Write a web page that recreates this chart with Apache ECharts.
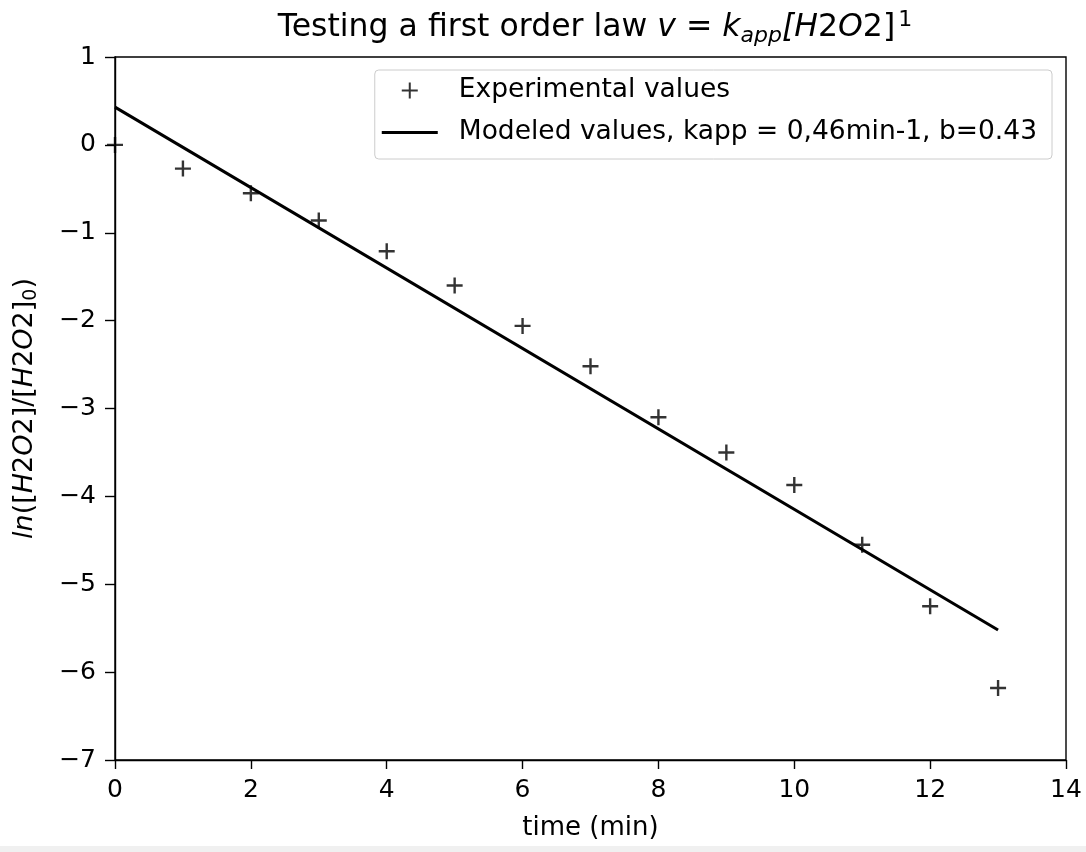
<!DOCTYPE html>
<html>
<head>
<meta charset="utf-8">
<script src="https://cdn.jsdelivr.net/npm/echarts@6/dist/echarts.min.js"></script>
<style>
  html, body { margin: 0; padding: 0; background: #f0f0f0; }
  #chart { width: 1086px; height: 846px; background: #ffffff; }
</style>
</head>
<body>
<div id="chart"></div>
<script>
// Data
const timeMin = [0, 1, 2, 3, 4, 5, 6, 7, 8, 9, 10, 11, 12, 13];
const lnRatio = [0, -0.27, -0.55, -0.86, -1.21, -1.6, -2.06, -2.52, -3.1, -3.5, -3.87, -4.55, -5.25, -6.18];
const modelTime = [0, 13];
const modelValues = [0.43, -5.52];
const xTicks = [0, 2, 4, 6, 8, 10, 12, 14];
const yTicks = [-7, -6, -5, -4, -3, -2, -1, 0, 1];

const expName = 'Experimental values';
const modelName = 'Modeled values, kapp = 0,46min-1, b=0.43';

const FONT = 'DejaVu Sans';
const plusPath = 'path://M5,0L5,10M0,5L10,5';
const linePath = 'path://M0,0L56,0L56,3L0,3Z';

const chart = echarts.init(document.getElementById('chart'), null, { renderer: 'canvas' });

const tn = { fontFamily: FONT, fontSize: 31.5, fontWeight: 'normal', color: '#000', lineHeight: 38, verticalAlign: 'middle' };
const option = {
  backgroundColor: '#ffffff',
  animation: false,
  textStyle: { fontFamily: FONT, color: '#000' },
  title: {
    text: '{n|Testing a first order law }{i|v}{n| = }{i|k}{sub|app}{i|[H}{n|2}{i|O}{n|2]}{sup|1}',
    left: 590,
    textAlign: 'center',
    top: 4,
    textStyle: {
      fontWeight: 'normal',
      rich: {
        n: tn,
        i: Object.assign({}, tn, { fontStyle: 'italic' }),
        sub: { fontFamily: FONT, fontSize: 22, fontWeight: 'normal', fontStyle: 'italic', color: '#000', lineHeight: 17, verticalAlign: 'bottom' },
        sup: { fontFamily: FONT, fontSize: 22, fontWeight: 'normal', color: '#000', lineHeight: 30, verticalAlign: 'top', padding: [0, 0, 0, 3] }
      }
    }
  },
  legend: {
    right: 34,
    top: 70,
    orient: 'vertical',
    align: 'left',
    itemWidth: 56,
    itemHeight: 16,
    itemGap: 15,
    padding: [7, 15, 13, 7],
    borderColor: '#cccccc',
    borderWidth: 1,
    borderRadius: 4,
    backgroundColor: 'rgba(255,255,255,0.8)',
    textStyle: { fontFamily: FONT, fontSize: 26.5, color: '#000', padding: [0, 0, 0, 16] },
    data: [
      { name: expName, icon: plusPath },
      { name: modelName, icon: linePath, itemStyle: { color: '#000', borderWidth: 0 } }
    ]
  },
  grid: {
    left: 115,
    right: 20,
    top: 57,
    bottom: 83,
    show: true,
    borderColor: '#000',
    borderWidth: 1.4,
    backgroundColor: 'transparent'
  },
  xAxis: {
    type: 'value',
    min: xTicks[0],
    max: xTicks[xTicks.length - 1],
    interval: 2,
    name: 'time (min)',
    nameLocation: 'middle',
    nameGap: 55,
    nameTextStyle: { fontFamily: FONT, fontSize: 26, color: '#000' },
    axisLine: { show: true, onZero: false, lineStyle: { color: '#000', width: 1.4 } },
    axisTick: { show: true, inside: false, length: 9, lineStyle: { color: '#000', width: 1.4 } },
    axisLabel: { fontFamily: FONT, fontSize: 25, color: '#000', margin: 18 },
    splitLine: { show: false }
  },
  yAxis: {
    type: 'value',
    min: yTicks[0],
    max: yTicks[yTicks.length - 1],
    interval: 1,
    name: '{i|ln}{n|([}{i|H}{n|2}{i|O}{n|2]/[}{i|H}{n|2}{i|O}{n|2]}{sub|0}{n|)}',
    nameLocation: 'middle',
    nameRotate: 90,
    nameGap: 74,
    nameTextStyle: {
      rich: {
        n: { fontFamily: FONT, fontSize: 27, color: '#000', lineHeight: 32, verticalAlign: 'middle' },
        i: { fontFamily: FONT, fontSize: 27, fontStyle: 'italic', color: '#000', lineHeight: 32, verticalAlign: 'middle' },
        sub: { fontFamily: FONT, fontSize: 19, color: '#000', lineHeight: 12, verticalAlign: 'bottom' }
      }
    },
    axisLine: { show: true, onZero: false, lineStyle: { color: '#000', width: 1.4 } },
    axisTick: { show: true, inside: false, length: 10, lineStyle: { color: '#000', width: 1.4 } },
    axisLabel: {
      fontFamily: FONT, fontSize: 25, color: '#000', margin: 19,
      formatter: v => String(v).replace('-', '\u2212')
    },
    splitLine: { show: false }
  },
  series: [
    {
      name: expName,
      type: 'scatter',
      data: timeMin.map((t, i) => [t, lnRatio[i]]),
      symbol: plusPath,
      symbolSize: 16,
      clip: false,
      itemStyle: { color: '#000', borderColor: '#000', borderWidth: 2.4 },
      z: 3
    },
    {
      name: modelName,
      type: 'line',
      data: modelTime.map((t, i) => [t, modelValues[i]]),
      symbol: 'none',
      showSymbol: false,
      lineStyle: { color: '#000', width: 3 },
      itemStyle: { color: '#000' },
      z: 2
    }
  ]
};

chart.setOption(option);
</script>
</body>
</html>
